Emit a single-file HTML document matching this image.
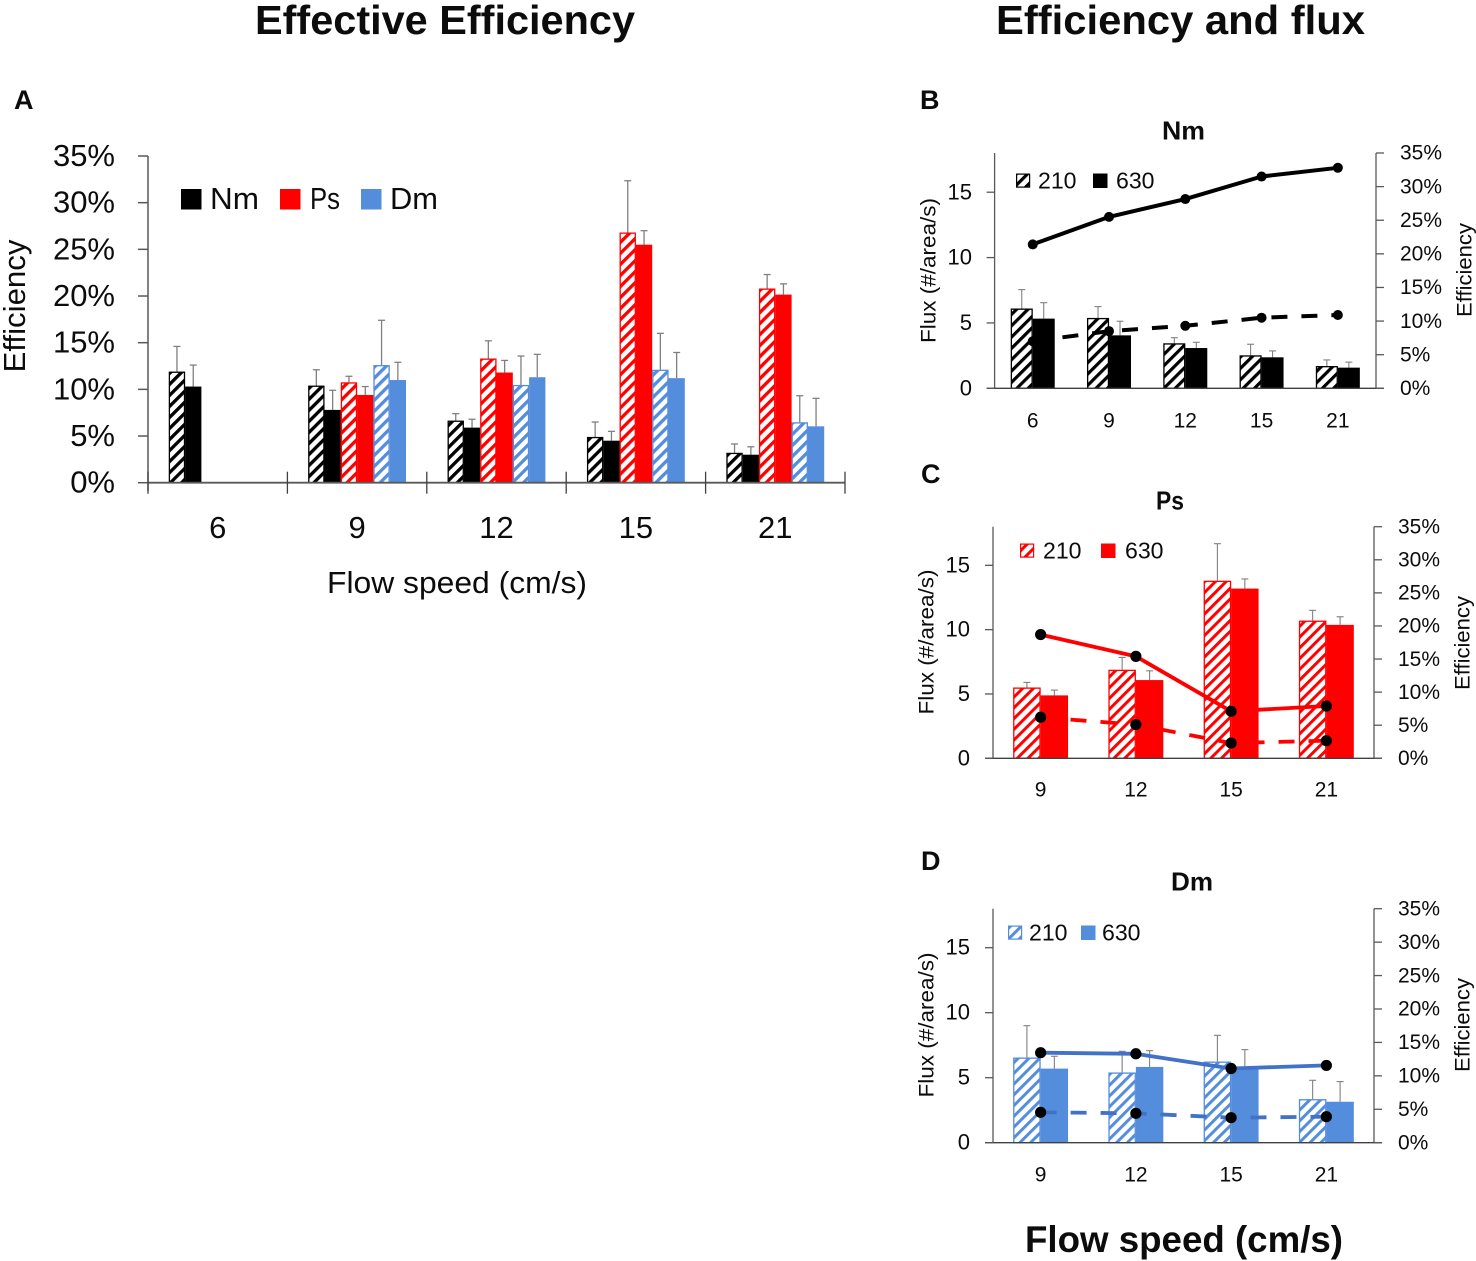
<!DOCTYPE html>
<html lang="en">
<head>
<meta charset="utf-8">
<title>Effective Efficiency and Efficiency and flux</title>
<style>
html,body{margin:0;padding:0;background:#fff;}
svg{display:block;}
text{font-family:"Liberation Sans",sans-serif;fill:#0c0c0c;}
</style>
</head>
<body>
<svg id="figure" xmlns="http://www.w3.org/2000/svg" width="1476" height="1261" viewBox="0 0 1476 1261">
<defs id="patterns"></defs>
<rect x="0" y="0" width="1476" height="1261" fill="#ffffff"/>
<text x="255" y="34" font-size="41" font-weight="bold" textLength="380" lengthAdjust="spacingAndGlyphs">Effective Efficiency</text>
<text x="996" y="34" font-size="41" font-weight="bold" textLength="369" lengthAdjust="spacingAndGlyphs">Efficiency and flux</text>
<text x="1025" y="1252" font-size="37" font-weight="bold" textLength="318" lengthAdjust="spacingAndGlyphs">Flow speed (cm/s)</text>
<text x="14" y="109" font-size="27" font-weight="bold">A</text>
<text x="920" y="109" font-size="27" font-weight="bold">B</text>
<text x="921" y="483" font-size="27" font-weight="bold">C</text>
<text x="921" y="870" font-size="27" font-weight="bold">D</text>
<g id="panel-a"></g>
<g id="panel-b"></g>
<g id="panel-c"></g>
<g id="panel-d"></g>
</svg>
<script>
/* ---------- Panel A data ---------- */
const speedCategoriesA = ['6', '9', '12', '15', '21'];
const efficiencyTicks = [0, 5, 10, 15, 20, 25, 30, 35];
const nm210Eff = [11.9, 10.4, 6.65, 4.9, 3.2];
const nm210EffErr = [2.7, 1.7, 0.75, 1.6, 0.95];
const nm630Eff = [10.3, 7.8, 5.9, 4.5, 3.0];
const nm630EffErr = [2.3, 2.1, 0.9, 1.0, 0.85];
const ps210Eff = [null, 10.75, 13.3, 26.8, 20.8];
const ps210EffErr = [null, 0.65, 1.9, 5.55, 1.5];
const ps630Eff = [null, 9.4, 11.8, 25.5, 20.15];
const ps630EffErr = [null, 0.9, 1.3, 1.5, 1.15];
const dm210Eff = [null, 12.6, 10.47, 12.1, 6.47];
const dm210EffErr = [null, 4.8, 3.1, 3.9, 2.85];
const dm630Eff = [null, 11.0, 11.3, 11.2, 6.04];
const dm630EffErr = [null, 1.9, 2.45, 2.75, 3.0];

/* ---------- Panel B data (Nm) ---------- */
const nmCategories = ['6', '9', '12', '15', '21'];
const nmFlux210 = [6.1, 5.38, 3.44, 2.52, 1.7];
const nmFlux210Err = [1.45, 0.87, 0.43, 0.85, 0.47];
const nmFlux630 = [5.33, 4.05, 3.08, 2.37, 1.58];
const nmFlux630Err = [1.22, 1.08, 0.44, 0.49, 0.42];
const nmLineSolid = [21.4, 25.5, 28.15, 31.5, 32.8];
const nmLineDashed = [7.0, 8.5, 9.3, 10.5, 10.9];

/* ---------- Panel C data (Ps) ---------- */
const psCategories = ['9', '12', '15', '21'];
const psFlux210 = [5.5, 6.88, 13.8, 10.7];
const psFlux210Err = [0.4, 0.96, 2.88, 0.8];
const psFlux630 = [4.89, 6.08, 13.19, 10.37];
const psFlux630Err = [0.41, 0.72, 0.75, 0.63];
const psLineSolid = [18.7, 15.4, 7.1, 7.9];
const psLineDashed = [6.2, 5.1, 2.3, 2.66];

/* ---------- Panel D data (Dm) ---------- */
const dmCategories = ['9', '12', '15', '21'];
const dmFlux210 = [6.55, 5.4, 6.24, 3.35];
const dmFlux210Err = [2.45, 1.63, 2.02, 1.45];
const dmFlux630 = [5.7, 5.83, 5.83, 3.15];
const dmFlux630Err = [0.95, 1.25, 1.33, 1.55];
const dmLineSolid = [13.46, 13.3, 11.1, 11.56];
const dmLineDashed = [4.54, 4.39, 3.74, 3.89];

/* ---------- Shared tick labels ---------- */
const fluxTicks = [0, 5, 10, 15];
const fluxMax = 18;
const efficiencyMax = 35;

const NS = 'http://www.w3.org/2000/svg';
const COLORS = {black: '#000000', red: '#ff0000', blue: '#558ddd'};
const LINE_COLORS = {black: '#000000', red: '#ff0000', blue: '#4272c8'};
const AXIS = '#595959';
const ERR = '#808080';

function mk(parent, tag, attrs) {
  const el = document.createElementNS(NS, tag);
  for (const k in attrs) el.setAttribute(k, attrs[k]);
  parent.appendChild(el);
  return el;
}
function txt(parent, str, x, yc, size, opts) {
  const o = opts || {};
  const a = {'font-size': size};
  if (o.bold) a['font-weight'] = 'bold';
  if (o.length) { a.textLength = o.length; a.lengthAdjust = 'spacingAndGlyphs'; }
  if (o.rotate) {
    a.transform = 'translate(' + x + ' ' + yc + ') rotate(-90)';
    a.x = 0; a.y = size * 0.36; a['text-anchor'] = 'middle';
  } else {
    a.x = x; a.y = yc + size * 0.32; a['text-anchor'] = o.anchor || 'start';
  }
  const el = mk(parent, 'text', a);
  el.textContent = str;
  return el;
}
function seg(parent, x1, y1, x2, y2, color, w) {
  return mk(parent, 'line', {x1: x1, y1: y1, x2: x2, y2: y2, stroke: color, 'stroke-width': w});
}
function hatchPattern(id, color, period, stripe) {
  const defs = document.getElementById('patterns');
  const p = mk(defs, 'pattern', {id: id, patternUnits: 'userSpaceOnUse', width: period, height: period, patternTransform: 'rotate(45)'});
  mk(p, 'rect', {x: 0, y: 0, width: period, height: period, fill: '#ffffff'});
  mk(p, 'rect', {x: 0, y: 0, width: stripe, height: period, fill: color});
}
function drawBar(parent, name, x, w, val, errVal, color, hatchId, yOf, capHalf, errW) {
  if (val === null) return;
  const top = yOf(val);
  const base = yOf(0);
  const errTop = yOf(val + errVal);
  const cx = x + w / 2;
  const stem = seg(parent, cx, top, cx, errTop, ERR, errW);
  
  
  const cap = seg(parent, cx - capHalf, errTop, cx + capHalf, errTop, ERR, errW);
  
  
  const bar = mk(parent, 'rect', hatchId
    ? {x: x + 0.6, y: top + 0.6, width: w - 1.2, height: Math.max(base - top - 0.6, 0), fill: 'url(#' + hatchId + ')', stroke: color, 'stroke-width': 1.3}
    : {x: x, y: top, width: w, height: Math.max(base - top, 0), fill: color});
  
  
}

/* ---------- Panel A ---------- */
function drawPanelA() {
  const g = document.getElementById('panel-a');
  const left = 148, right = 845, top = 156, base = 482.7;
  const band = (right - left) / speedCategoriesA.length;
  const barW = band / 8.55;
  const pad = (band - barW * 6) / 2;
  const yOf = v => base - v / efficiencyMax * (base - top);
  hatchPattern('hatch-a-black', COLORS.black, 7.8, 3.3);
  hatchPattern('hatch-a-red', COLORS.red, 7.8, 3.3);
  hatchPattern('hatch-a-blue', COLORS.blue, 7.8, 3.3);

  const series = [
    ['nm-210', nm210Eff, nm210EffErr, COLORS.black, 'hatch-a-black'],
    ['nm-630', nm630Eff, nm630EffErr, COLORS.black, null],
    ['ps-210', ps210Eff, ps210EffErr, COLORS.red, 'hatch-a-red'],
    ['ps-630', ps630Eff, ps630EffErr, COLORS.red, null],
    ['dm-210', dm210Eff, dm210EffErr, COLORS.blue, 'hatch-a-blue'],
    ['dm-630', dm630Eff, dm630EffErr, COLORS.blue, null]
  ];
  series.forEach((s, si) => {
    s[1].forEach((v, ci) => {
      drawBar(g, 'bar-a-' + s[0] + '-' + speedCategoriesA[ci], left + band * ci + pad + barW * si, barW, v, s[2][ci], s[3], s[4], yOf, 3.5, 1.3);
    });
  });

  const yAxis = seg(g, left, top, left, base + 8, AXIS, 1.5);
  
  
  const xAxis = seg(g, left, base, right, base, AXIS, 1.8);
  
  

  efficiencyTicks.forEach(t => {
    const tick = seg(g, left - 10, yOf(t), left, yOf(t), AXIS, 1.5);
    
    
    const label = txt(g, t + '%', 115, yOf(t), 31, {anchor: 'end'});
    
    
  });
  for (let i = 0; i <= speedCategoriesA.length; i++) {
    const tick = seg(g, left + band * i, base - 11, left + band * i, base + 11, '#404040', 1.3);
    
    
  }
  speedCategoriesA.forEach((c, i) => {
    const label = txt(g, c, left + band * (i + 0.5), 528, 31, {anchor: 'middle'});
    
    
  });

  const xTitle = txt(g, 'Flow speed (cm/s)', 327, 583, 31, {length: 260});
  
  
  const yTitle = txt(g, 'Efficiency', 14, 306, 31, {rotate: true, length: 133});
  
  

  const legend = [['Nm', 181, 210, 49, COLORS.black], ['Ps', 280, 310, 30, COLORS.red], ['Dm', 361, 390, 48, COLORS.blue]];
  legend.forEach(l => {
    const sw = mk(g, 'rect', {x: l[1], y: 189, width: 20.5, height: 20.5, fill: l[4]});
    
    
    const tx = txt(g, l[0], l[2], 199, 31, {length: l[3]});
    
    
  });
}

/* ---------- Panels B, C, D ---------- */
function drawFluxPanel(cfg) {
  const g = document.getElementById(cfg.id);
  const {left, right, top, base, categories, flux210, flux210Err, flux630, flux630Err, solid, dashed, color, key} = cfg;
  const band = (right - left) / categories.length;
  const barW = band / 3.47;
  const yFlux = v => base - v / fluxMax * (base - top);
  const yEff = v => base - v / efficiencyMax * (base - top);
  const xCat = i => left + band * (i + 0.5);
  const fill = COLORS[color];
  const lineColor = LINE_COLORS[color];
  const hatchId = 'hatch-' + key;
  hatchPattern(hatchId, fill, cfg.period, cfg.stripe);

  categories.forEach((c, i) => {
    drawBar(g, 'bar-' + key + '-210-' + c, xCat(i) - barW, barW, flux210[i], flux210Err[i], fill, hatchId, yFlux, 3.5, 1.1);
    drawBar(g, 'bar-' + key + '-630-' + c, xCat(i), barW, flux630[i], flux630Err[i], fill, null, yFlux, 3.5, 1.1);
  });

  const toPoints = arr => arr.map((v, i) => xCat(i).toFixed(1) + ',' + yEff(v).toFixed(1)).join(' ');
  const solidLine = mk(g, 'polyline', {points: toPoints(solid), fill: 'none', stroke: lineColor, 'stroke-width': cfg.lineW, 'stroke-linejoin': 'round'});
  
  
  const dashedLine = mk(g, 'polyline', {points: toPoints(dashed), fill: 'none', stroke: lineColor, 'stroke-width': cfg.lineW, 'stroke-dasharray': '16 14'});
  
  
  solid.forEach((v, i) => {
    const dot = mk(g, 'circle', {cx: xCat(i), cy: yEff(v), r: cfg.dotR, fill: '#000000'});
    
    
  });
  dashed.forEach((v, i) => {
    const dot = mk(g, 'circle', {cx: xCat(i), cy: yEff(v), r: cfg.dotR, fill: '#000000'});
    
    
  });

  const leftAxis = seg(g, left, top, left, base, AXIS, 1.3);
  
  
  const rightAxis = seg(g, right, top, right, base, AXIS, 1.3);
  
  
  const baseAxis = seg(g, left - 8, base, right + 8, base, '#404040', 1.4);
  
  

  fluxTicks.forEach(t => {
    const tick = seg(g, left - 8, yFlux(t), left, yFlux(t), AXIS, 1.3);
    
    
    const label = txt(g, String(t), cfg.leftLabelX, yFlux(t), 22, {anchor: 'end'});
    
    
  });
  efficiencyTicks.forEach(t => {
    const tick = seg(g, right, yEff(t), right + 8, yEff(t), AXIS, 1.3);
    
    
    const label = txt(g, t + '%', cfg.rightLabelX, yEff(t), 21);
    
    
  });
  categories.forEach((c, i) => {
    const label = txt(g, c, xCat(i), cfg.catY, 21, {anchor: 'middle'});
    
    
  });

  const title = txt(g, cfg.title, cfg.titleX, cfg.titleY, 26, {bold: true, anchor: 'middle', length: cfg.titleW});
  
  
  const fluxTitle = txt(g, 'Flux (#/area/s)', cfg.fluxX, cfg.fluxY, 21, {rotate: true, length: 145});
  
  
  const effTitle = txt(g, 'Efficiency', cfg.effX, cfg.effY, 21, {rotate: true, length: 94});
  
  

  const L = cfg.legend;
  const sw1 = mk(g, 'rect', {x: L.hx + 0.6, y: L.y - 6.9, width: 13, height: 13, fill: 'url(#' + hatchId + ')', stroke: fill, 'stroke-width': 1.2});
  
  
  const lb1 = txt(g, '210', L.t1, L.y, 23, {length: 38.5});
  
  
  const sw2 = mk(g, 'rect', {x: L.sx, y: L.y - 7.5, width: 14.5, height: 14.5, fill: fill});
  
  
  const lb2 = txt(g, '630', L.t2, L.y, 23, {length: 38.5});
  
  
}

drawPanelA();
drawFluxPanel({
  id: 'panel-b', key: 'nm', title: 'Nm', color: 'black', categories: nmCategories,
  flux210: nmFlux210, flux210Err: nmFlux210Err, flux630: nmFlux630, flux630Err: nmFlux630Err,
  solid: nmLineSolid, dashed: nmLineDashed,
  left: 994.6, right: 1376, top: 153, base: 388.3, period: 8, stripe: 3.2, lineW: 4, dotR: 5,
  leftLabelX: 972, rightLabelX: 1400, catY: 421, titleX: 1183.5, titleY: 131, titleW: 43,
  fluxX: 928, fluxY: 270.5, effX: 1464, effY: 270,
  legend: {hx: 1016, t1: 1038, sx: 1093, t2: 1116, y: 181}
});
drawFluxPanel({
  id: 'panel-c', key: 'ps', title: 'Ps', color: 'red', categories: psCategories,
  flux210: psFlux210, flux210Err: psFlux210Err, flux630: psFlux630, flux630Err: psFlux630Err,
  solid: psLineSolid, dashed: psLineDashed,
  left: 993, right: 1374, top: 526.7, base: 758.3, period: 7.6, stripe: 3, lineW: 3.8, dotR: 5.6,
  leftLabelX: 970, rightLabelX: 1398, catY: 790, titleX: 1170, titleY: 501, titleW: 28,
  fluxX: 926, fluxY: 642, effX: 1462, effY: 643,
  legend: {hx: 1020, t1: 1043, sx: 1101, t2: 1125, y: 551}
});
drawFluxPanel({
  id: 'panel-d', key: 'dm', title: 'Dm', color: 'blue', categories: dmCategories,
  flux210: dmFlux210, flux210Err: dmFlux210Err, flux630: dmFlux630, flux630Err: dmFlux630Err,
  solid: dmLineSolid, dashed: dmLineDashed,
  left: 993, right: 1374, top: 908.7, base: 1142.7, period: 7.6, stripe: 3, lineW: 3.8, dotR: 5.6,
  leftLabelX: 970, rightLabelX: 1398, catY: 1175, titleX: 1192, titleY: 882, titleW: 42,
  fluxX: 926, fluxY: 1025, effX: 1462, effY: 1025,
  legend: {hx: 1008, t1: 1029, sx: 1081, t2: 1102, y: 933}
});
</script>
</body>
</html>
